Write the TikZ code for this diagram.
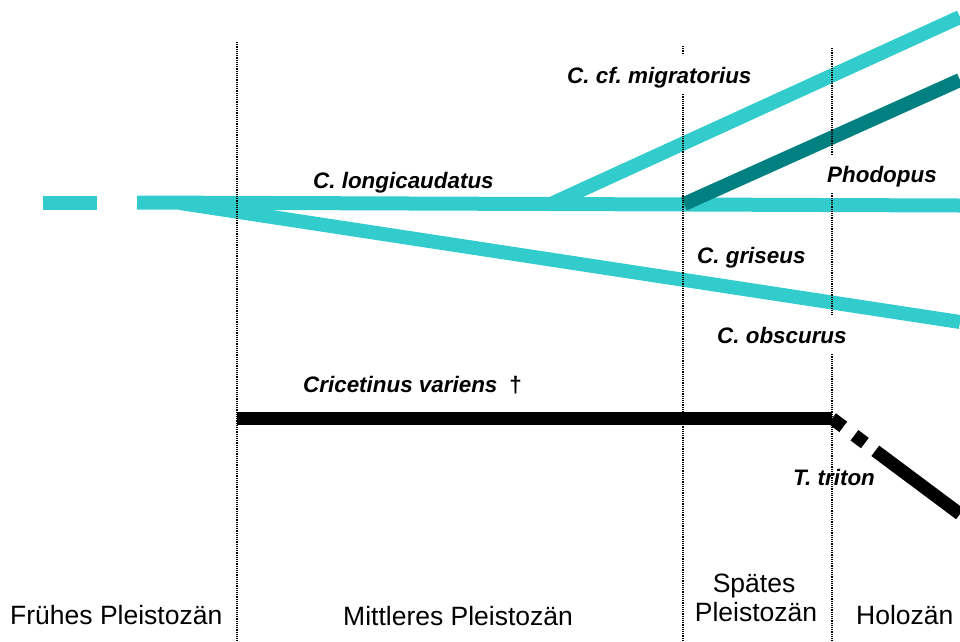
\documentclass[tikz,border=0pt]{standalone}
\usepackage{fontspec}
\setmainfont{Liberation Sans}
\definecolor{lcyan}{HTML}{33CCCC}
\definecolor{lteal}{HTML}{008080}
\frenchspacing
\begin{document}
\begin{tikzpicture}[x=1pt,y=-1pt,
  lineage/.style={line width=14pt, line cap=butt},
  cyanline/.style={lineage, draw=lcyan},
  tealline/.style={lineage, draw=lteal},
  blackline/.style={line width=13pt, line cap=butt, draw=black},
  divider/.style={line width=1.1pt, dash pattern=on 1.1pt off 1.1pt, draw=black},
  species/.style={font=\fontsize{22.4}{26}\selectfont\bfseries\itshape, inner xsep=0pt,
    inner ysep=8pt, text height=20pt, text depth=3pt, anchor=base west},
  era/.style={font=\fontsize{26.5}{29}\selectfont, inner sep=0pt, anchor=base west}]

\useasboundingbox (0,0) rectangle (960,641);

% lineage end points
\coordinate (d0) at (43,202.5);
\coordinate (d1) at (97,202.5);
\coordinate (m0) at (137,202.5);
\coordinate (mE) at (960,205.5);
\coordinate (g0) at (180,203);
\coordinate (gE) at (960,322);
\coordinate (u0) at (553,203);
\coordinate (uE) at (960,17);
\coordinate (p0) at (684,204);
\coordinate (pE) at (960,80);
\coordinate (c0) at (237,418.5);
\coordinate (c1) at (832,418.5);
\coordinate (tE) at (960,514);

% Cricetulus lineages
\draw[cyanline] (d0) -- (d1);
\draw[cyanline] (m0) -- (mE);
\draw[cyanline] (g0) -- (gE);
\draw[cyanline] (u0) -- (uE);
\draw[tealline] (p0) -- (pE);

% Cricetinus / Tscherskia
\draw[blackline] (c0) -- (c1);
\draw[blackline, dash pattern=on 14pt off 14pt on 13pt off 13pt on 400pt off 1pt] (c1) -- (tE);

% species labels
\node[species] (lon) at (313,188) {C. longicaudatus};
\node[species] (mig) at (567,83) {C. cf. migratorius};
\node[species] (pho) at (827,182) {Phodopus};
\node[species] (gri) at (697,263) {C. griseus};
\node[species] (obs) at (717,343) {C. obscurus};
\node[species] (cri) at (303,392) {Cricetinus variens\hspace{12pt}{\upshape †}};
\node[species] (tri) at (793,485) {T. triton};

% period boundaries
\coordinate (v1t) at (237,42);
\coordinate (v1b) at (237,641);
\coordinate (v2t) at (683,46);
\coordinate (v2b) at (683,641);
\coordinate (v3t) at (832,48);
\coordinate (v3b) at (832,641);
\draw[divider] (v1t) -- (v1b);
\draw[divider] (v2t) -- (v2t |- mig.north);
\draw[divider] (v2t |- mig.south) -- (v2b);
\draw[divider] (v3t) -- (v3t |- pho.north);
\draw[divider] (v3t |- pho.south) -- (v3t |- obs.north);
\draw[divider] (v3t |- obs.south) -- (v3b);

% periods
\node[era] (e1) at (10,624) {Frühes Pleistozän};
\node[era] (e2) at (343,625) {Mittleres Pleistozän};
\node[era, anchor=base] (e3a) at (754,592) {Spätes};
\node[era, anchor=base] (e3b) at (756,621) {Pleistozän};
\node[era] (e4) at (856,624) {Holozän};
\end{tikzpicture}
\end{document}
